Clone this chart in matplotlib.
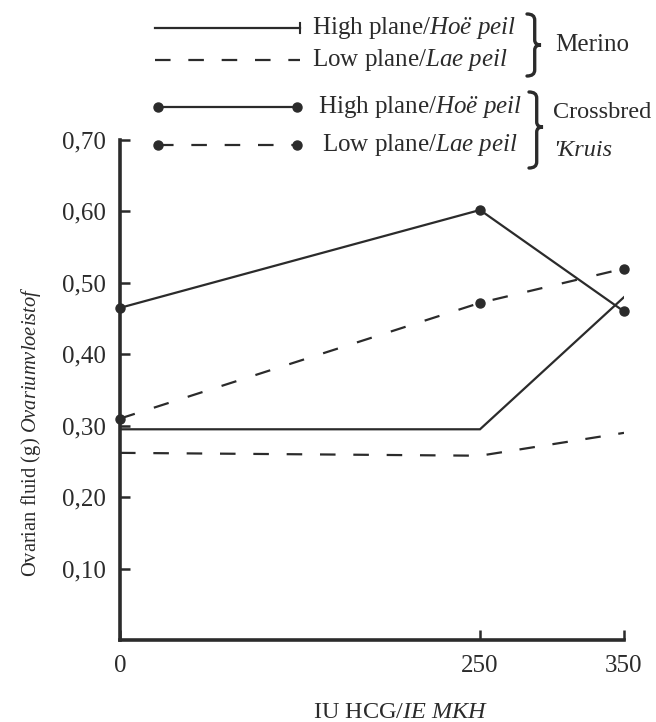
import matplotlib
matplotlib.use("Agg")
import matplotlib.pyplot as plt
from matplotlib.lines import Line2D
from matplotlib.path import Path
from matplotlib.patches import PathPatch

plt.rcParams["font.family"] = ["Liberation Serif", "DejaVu Serif"]
plt.rcParams["mathtext.fontset"] = "custom"
plt.rcParams["mathtext.rm"] = "Liberation Serif"
plt.rcParams["mathtext.it"] = "Liberation Serif:italic"

# HCG dose (IU) and ovarian fluid weight (g)
dose = [0, 250, 350]
merino_high = [0.295, 0.295, 0.48]
merino_low = [0.262, 0.258, 0.29]
cross_high = [0.465, 0.602, 0.46]
cross_low = [0.31, 0.472, 0.52]

y_ticks = [0.1, 0.2, 0.3, 0.4, 0.5, 0.6, 0.7]
y_tick_labels = ["0,10", "0,20", "0,30", "0,40", "0,50", "0,60", "0,70"]
x_ticks = [0, 250, 350]
x_tick_labels = ["0", "250", "350"]

ink = "#2b2b2b"
W, H = 656, 722

fig = plt.figure(figsize=(W / 100, H / 100), dpi=100)
ax = fig.add_axes([120 / W, 1 - 640 / H, 504 / W, 500 / H])

ax.plot(dose, merino_high, color=ink, lw=1.6, solid_joinstyle="miter")
ax.plot(dose, merino_low, color=ink, lw=1.6, dashes=(7, 8))
ax.plot(dose, cross_high, color=ink, lw=1.6, marker="o", ms=6.5,
        clip_on=False)
ax.plot(dose, cross_low, color=ink, lw=1.6, dashes=(7, 9), marker="o",
        ms=6.5, clip_on=False)

ax.set_xlim(0, 350)
ax.set_ylim(0, 0.70)
ax.spines[["top", "right"]].set_visible(False)
for s in ("left", "bottom"):
    ax.spines[s].set_linewidth(2.6)
    ax.spines[s].set_color(ink)

ax.set_yticks(y_ticks, y_tick_labels)
ax.set_xticks(x_ticks, x_tick_labels)
ax.tick_params(axis="y", direction="in", length=7, width=1.8, color=ink,
               labelsize=18, pad=10, labelcolor=ink)
ax.tick_params(axis="x", direction="in", length=7, width=1.8, color=ink,
               labelsize=18, pad=11, labelcolor=ink)


def fx(px):
    return px / W


def fy(py):
    return 1 - py / H


def brace(xl, yt, yb, ym, w):
    # right-pointing curly brace, given in pixels from the top-left corner
    xm = xl + w * 0.55
    pts = [
        (xl, yt), (xm, yt), (xm, yt + 6),
        (xm, ym - 5),
        (xm, ym), (xl + w, ym),
        (xm, ym), (xm, ym + 5),
        (xm, yb - 6),
        (xm, yb), (xl, yb),
    ]
    codes = [Path.MOVETO, Path.CURVE3, Path.CURVE3, Path.LINETO,
             Path.CURVE3, Path.CURVE3, Path.CURVE3, Path.CURVE3,
             Path.LINETO, Path.CURVE3, Path.CURVE3]
    path = Path([(fx(x), fy(y)) for x, y in pts], codes)
    fig.add_artist(PathPatch(path, transform=fig.transFigure, fill=False,
                             edgecolor=ink, lw=2.4, capstyle="round"))


fig.text(fx(401), fy(712), r"IU HCG/$\mathit{IE\ MKH}$", fontsize=17.5,
         color=ink, ha="center", va="center")
fig.text(fx(31), fy(432), r"Ovarian fluid (g) $\mathit{Ovariumvloeistof}$",
         fontsize=14.8, color=ink, ha="center", va="center", rotation=90)

# key at the top
rows = [
    (28, 155, 300, "-", None, 312, r"High plane/$\mathit{Hoë\ peil}$"),
    (60, 155, 300, "--", None, 312, r"Low plane/$\mathit{Lae\ peil}$"),
    (107, 158, 297, "-", "o", 318, r"High plane/$\mathit{Hoë\ peil}$"),
    (145, 158, 297, "--", "o", 322, r"Low plane/$\mathit{Lae\ peil}$"),
]
for y, x0, x1, ls, mk, tx, label in rows:
    line = Line2D([fx(x0), fx(x1)], [fy(y), fy(y)], transform=fig.transFigure,
                  color=ink, lw=1.6, marker=mk, ms=6.5)
    if ls == "--":
        line.set_dashes((7, 8))
    fig.add_artist(line)
    fig.text(fx(tx), fy(y), label, fontsize=18, color=ink, va="center")

# end tick on the Merino high plane key line
fig.add_artist(Line2D([fx(300), fx(300)], [fy(23), fy(33)],
                      transform=fig.transFigure, color=ink, lw=1.5))

brace(527, 14, 76, 45, 14)
fig.text(fx(555), fy(45), "Merino", fontsize=18, color=ink, va="center")
brace(529, 92, 168, 127, 14)
fig.text(fx(553), fy(113), "Crossbred", fontsize=17.5, color=ink,
         va="center")
fig.text(fx(553), fy(150), "'Kruis", fontsize=17.5, color=ink, va="center",
         style="italic")

fig.savefig("out.png", dpi=100, facecolor="white")
